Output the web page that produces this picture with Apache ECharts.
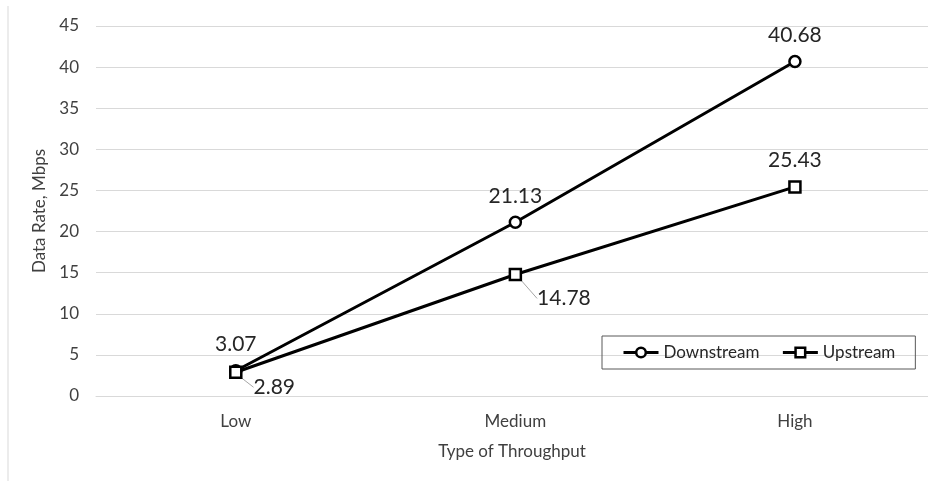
<!DOCTYPE html>
<html><head><meta charset="utf-8">
<script src="https://cdn.jsdelivr.net/npm/echarts@6/dist/echarts.min.js"></script>
<style>html,body{margin:0;padding:0;background:#fff}#c{width:928px;height:481px}</style>
</head><body><div id="c"></div>
<script>
const categories = ['Low', 'Medium', 'High'];
const downstream = [3.07, 21.13, 40.68];
const upstream = [2.89, 14.78, 25.43];
const yTicks = [0, 5, 10, 15, 20, 25, 30, 35, 40, 45];

const FONT = 'Lato';
const chart = echarts.init(document.getElementById('c'));
const catIdx = categories.map((c, i) => i);
const downData = downstream.map((v, i) => [i, v]);
const upData = upstream.map((v, i) => i < 2
  ? { value: [i, v], label: { position: 'right', distance: 5 }, labelLine: { show: true } }
  : { value: [i, v], labelLine: { show: false } });
const upShift = [[6, 15], [10, 24], [0, 0]];

chart.setOption({
  animation: false,
  textStyle: { fontFamily: FONT },
  grid: { left: 96, top: 26, right: 0, bottom: 85, containLabel: false },
  graphic: [{ type: 'line', shape: { x1: 8, y1: 6, x2: 8, y2: 481 }, style: { stroke: '#d9d9d9', lineWidth: 1 } }],
  legend: {
    left: 602, top: 336,
    padding: [8, 20, 8, 20],
    itemGap: 22,
    itemWidth: 35, itemHeight: 12,
    borderColor: '#595959', borderWidth: 1,
    lineStyle: { width: 3, color: '#000' },
    itemStyle: { borderWidth: 2.5, borderColor: '#000', color: '#fff' },
    textStyle: { fontSize: 17, color: '#262626', fontFamily: FONT },
    data: ['Downstream', 'Upstream']
  },
  xAxis: {
    type: 'value', min: -0.5, max: 2.476,
    name: 'Type of Throughput', nameLocation: 'middle', nameGap: 47,
    nameTextStyle: { fontSize: 17, color: '#404040', fontFamily: FONT },
    axisLine: { show: true, onZero: false, lineStyle: { color: '#d9d9d9' } },
    axisTick: { show: false },
    splitLine: { show: false },
    axisLabel: {
      fontSize: 17, color: '#404040', margin: 17, fontFamily: FONT,
      customValues: catIdx,
      formatter: v => categories[Math.round(v)] || ''
    }
  },
  yAxis: {
    type: 'value', min: yTicks[0], max: yTicks[yTicks.length - 1], interval: 5,
    name: 'Data Rate, Mbps', nameLocation: 'middle', nameGap: 48,
    nameTextStyle: { fontSize: 17, color: '#404040', fontFamily: FONT },
    axisLine: { show: false }, axisTick: { show: false },
    axisLabel: { fontSize: 17, color: '#404040', margin: 17, fontFamily: FONT },
    splitLine: { lineStyle: { color: '#d9d9d9', width: 1 } }
  },
  series: [
    {
      name: 'Downstream', type: 'line', data: downData,
      symbol: 'circle', symbolSize: 11, showAllSymbol: true,
      lineStyle: { color: '#000', width: 3 },
      itemStyle: { color: '#fff', borderColor: '#000', borderWidth: 2.5 },
      label: { show: true, position: 'top', distance: 9, fontSize: 21, color: '#262626', fontFamily: FONT,
               formatter: p => p.value[1] }
    },
    {
      name: 'Upstream', type: 'line', data: upData,
      symbol: 'rect', symbolSize: 11, showAllSymbol: true,
      lineStyle: { color: '#000', width: 3 },
      itemStyle: { color: '#fff', borderColor: '#000', borderWidth: 2.5 },
      label: { show: true, position: 'top', distance: 9, fontSize: 21, color: '#262626', fontFamily: FONT,
               formatter: p => p.value[1] },
      labelLine: { show: true, lineStyle: { color: '#a6a6a6', width: 1 } },
      labelLayout: function (p) {
        const s = upShift[p.dataIndex];
        return { dx: s[0], dy: s[1] };
      }
    }
  ]
});
</script></body></html>
